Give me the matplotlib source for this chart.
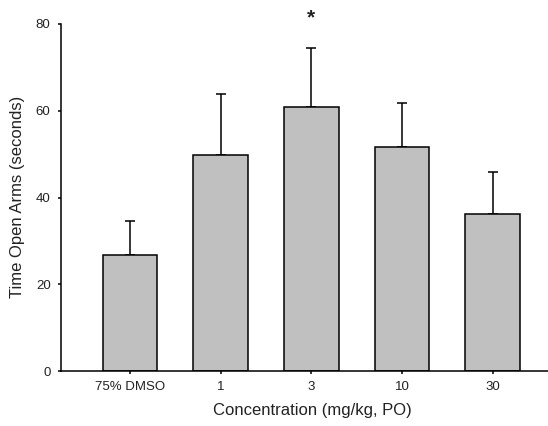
import matplotlib
matplotlib.use("Agg")
import matplotlib.pyplot as plt

plt.rcParams['font.family'] = ['Liberation Sans', 'DejaVu Sans']

categories = ["75% DMSO", "1", "3", "10", "30"]
means = [26.8, 49.7, 60.9, 51.6, 36.2]
sem = [7.8, 14.1, 13.5, 10.3, 9.7]
significant = [False, False, True, False, False]
y_ticks = [0, 20, 40, 60, 80]

fig = plt.figure(figsize=(5.48, 4.26), dpi=100)
ax = fig.add_axes([61/548, 1 - 371/426, 1 - 61/548, (371 - 24)/426])

x = list(range(len(categories)))
ax.bar(x, means, width=0.6, color="#c0c0c0", edgecolor="black", linewidth=1.1, zorder=2)
ax.errorbar(x, means, yerr=[[0]*len(sem), sem], fmt="none", ecolor="black",
            elinewidth=1.1, capsize=3.5, capthick=1.1, zorder=1)

for xi, m, s, sig in zip(x, means, sem, significant):
    if sig:
        ax.text(xi, 81.3, "*", ha="center", va="center", fontsize=15,
                fontweight="bold", color="#222222", clip_on=False)

ax.set_xlim(-0.76, 4.61)
ax.set_ylim(0, 80)
ax.set_yticks(y_ticks)
ax.set_xticks(x)
ax.set_xticklabels(categories)

for side in ["top", "right"]:
    ax.spines[side].set_visible(False)
for side in ["left", "bottom"]:
    ax.spines[side].set_linewidth(1.1)

ax.tick_params(axis="both", direction="out", length=2.5, width=1.1,
               labelsize=9.5, pad=5, labelcolor="#222222")

ax.set_ylabel("Time Open Arms (seconds)", fontsize=12, color="#222222")
ax.set_xlabel("Concentration (mg/kg, PO)", fontsize=12, color="#222222")
ax.yaxis.set_label_coords(-(61 - 18) / 487, (371 - 196.5) / 347)
ax.xaxis.set_label_coords((312 - 61) / 487, -(410 - 371) / 347)
ax.xaxis.label.set_va("center")
ax.yaxis.label.set_va("center")

fig.savefig("out.png", dpi=100)
